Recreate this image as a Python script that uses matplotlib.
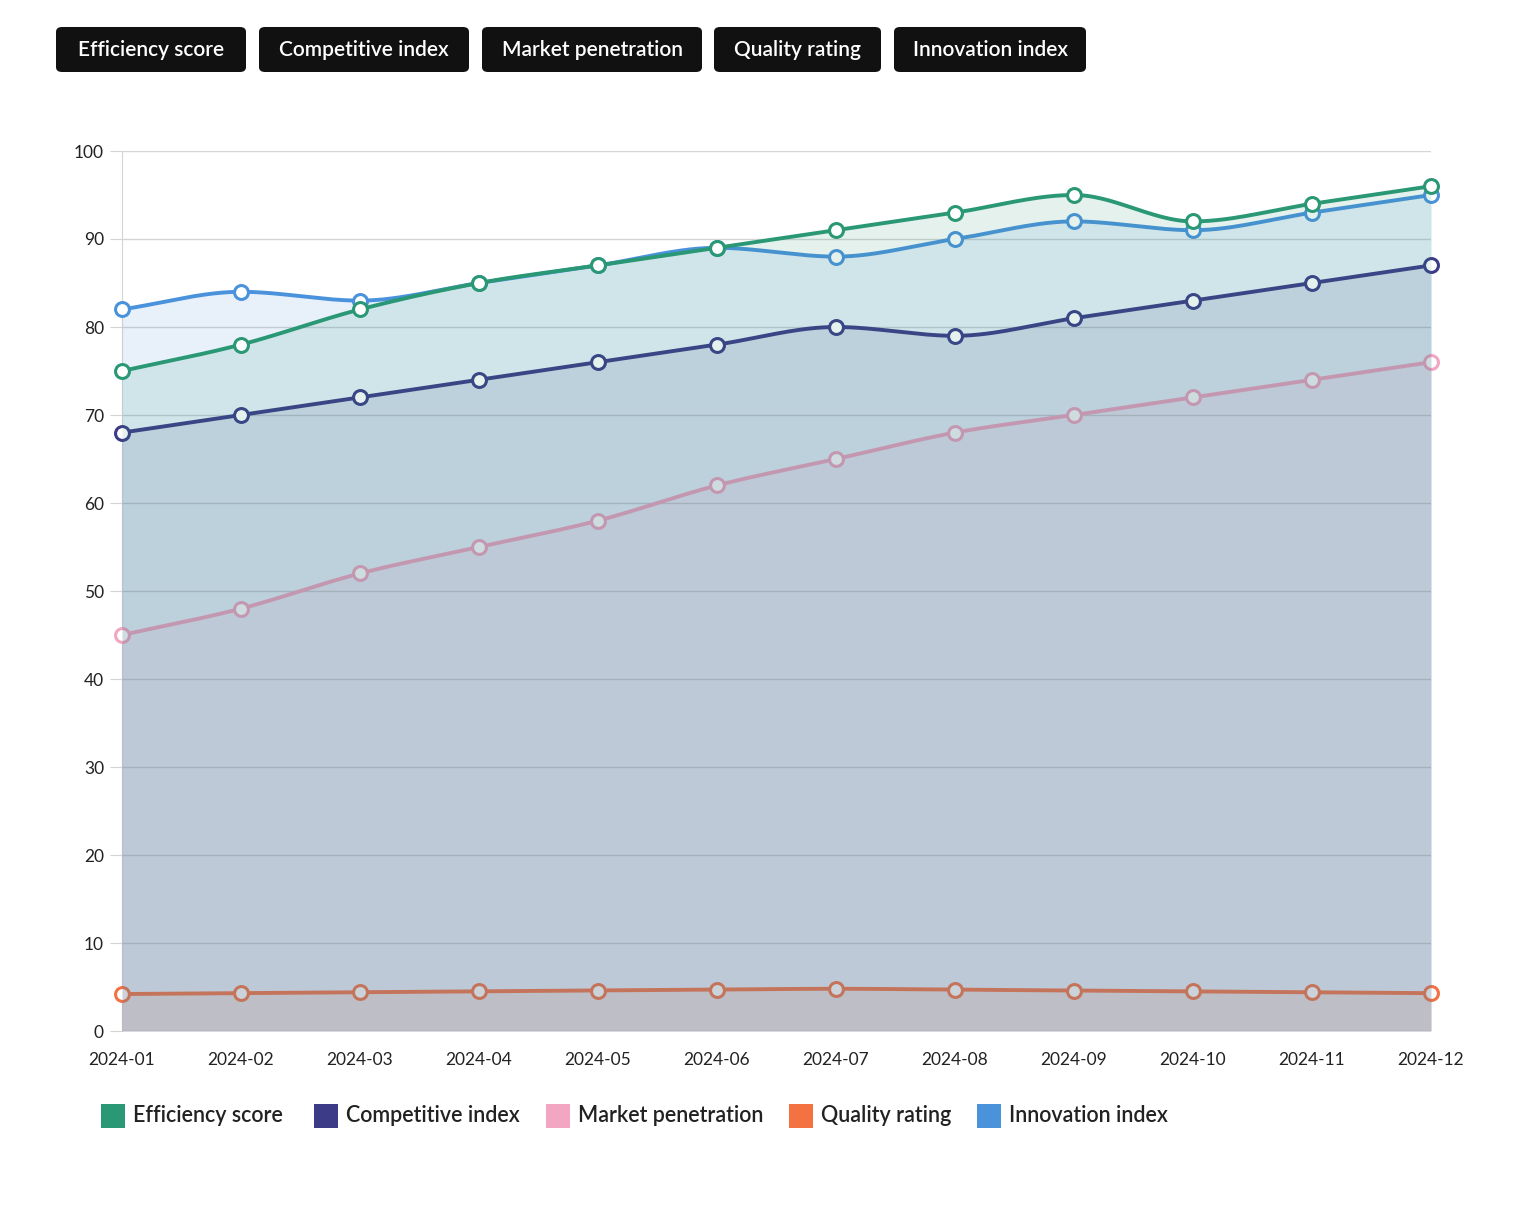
import numpy as np
import matplotlib
matplotlib.use("Agg")
import matplotlib.pyplot as plt
from matplotlib.patches import FancyBboxPatch, Rectangle

plt.rcParams["font.family"] = ["Lato", "DejaVu Sans"]

# ---- data ----
months = ["2024-01", "2024-02", "2024-03", "2024-04", "2024-05", "2024-06",
          "2024-07", "2024-08", "2024-09", "2024-10", "2024-11", "2024-12"]
series_names = ["Efficiency score", "Competitive index", "Market penetration",
                "Quality rating", "Innovation index"]
efficiency = [75, 78, 82, 85, 87, 89, 91, 93, 95, 92, 94, 96]
competitive = [68, 70, 72, 74, 76, 78, 80, 79, 81, 83, 85, 87]
market = [45, 48, 52, 55, 58, 62, 65, 68, 70, 72, 74, 76]
quality = [4.2, 4.3, 4.4, 4.5, 4.6, 4.7, 4.8, 4.7, 4.6, 4.5, 4.4, 4.3]
innovation = [82, 84, 83, 85, 87, 89, 88, 90, 92, 91, 93, 95]
colors = ["#2a9775", "#3b3b88", "#f2a6c2", "#f47142", "#4a92db"]

W, H = 1526, 1216


def fx(px):
    return px / W


def fy(py):
    return 1 - py / H


def monotone(x, y, n=30):
    # Fritsch-Carlson monotone cubic, for drawing the smooth line only
    x = np.asarray(x, float)
    y = np.asarray(y, float)
    h = np.diff(x)
    d = np.diff(y) / h
    m = np.zeros_like(y)
    m[0], m[-1] = d[0], d[-1]
    for i in range(1, len(y) - 1):
        if d[i - 1] * d[i] <= 0:
            m[i] = 0
        else:
            m[i] = (d[i - 1] + d[i]) / 2
    for i in range(len(d)):
        if d[i] == 0:
            m[i] = m[i + 1] = 0
            continue
        a, b = m[i] / d[i], m[i + 1] / d[i]
        s = a * a + b * b
        if s > 9:
            t = 3 / np.sqrt(s)
            m[i], m[i + 1] = t * a * d[i], t * b * d[i]
    xs, ys = [], []
    for i in range(len(d)):
        t = np.linspace(0, 1, n, endpoint=False)
        h00 = 2 * t**3 - 3 * t**2 + 1
        h10 = t**3 - 2 * t**2 + t
        h01 = -2 * t**3 + 3 * t**2
        h11 = t**3 - t**2
        xs.append(x[i] + t * h[i])
        ys.append(h00 * y[i] + h10 * h[i] * m[i] + h01 * y[i + 1] + h11 * h[i] * m[i + 1])
    xs.append([x[-1]])
    ys.append([y[-1]])
    return np.concatenate(xs), np.concatenate(ys)


fig = plt.figure(figsize=(W / 100, H / 100), dpi=100)
ax = fig.add_axes([fx(122), fy(1031), fx(1431) - fx(122), fy(151) - fy(1031)])

data = [efficiency, competitive, market, quality, innovation]
xi = np.arange(len(months))

# draw last dataset first so the first one ends up on top
for k in reversed(range(len(data))):
    sx, sy = monotone(xi, data[k])
    z = 10 + (len(data) - k) * 3
    ax.fill_between(sx, 0, sy, color=colors[k], alpha=0.125, linewidth=0, zorder=z)
    ax.plot(sx, sy, color=colors[k], lw=2.8, zorder=z + 1, solid_capstyle="round",
            clip_on=False)
    ax.plot(xi, data[k], "o", ms=10, mfc="white", mec=colors[k], mew=2.2,
            zorder=z + 2, linestyle="none", clip_on=False)

ax.set_xlim(0, len(months) - 1)
ax.set_ylim(0, 100)
ax.set_yticks(range(0, 101, 10))
ax.set_xticks(xi)
ax.set_xticklabels(months)
ax.grid(axis="y", color="#d4d4d4", lw=1, zorder=1)
for side in ["top", "right", "bottom"]:
    ax.spines[side].set_visible(False)
ax.spines["left"].set_color("#d4d4d4")
ax.tick_params(axis="y", length=9, color="#d4d4d4", labelsize=12.5, pad=4,
               labelcolor="#222222")
ax.tick_params(axis="x", length=0, labelsize=12.5, pad=15, labelcolor="#222222")
ax.set_axisbelow(True)

# top buttons
buttons = [(56, 246), (259, 469), (482, 702), (714, 881), (894, 1086)]
for (x0, x1), name in zip(buttons, series_names):
    box = FancyBboxPatch((fx(x0), fy(72)), fx(x1) - fx(x0), fy(27) - fy(72),
                         boxstyle="round,pad=0,rounding_size=0.004",
                         transform=fig.transFigure, facecolor="#111111",
                         edgecolor="none")
    fig.add_artist(box)
    fig.text(fx((x0 + x1) / 2), fy(50), name, color="white", fontsize=15,
             ha="center", va="center", fontweight="semibold")

# legend
legend_x = [101, 314, 546, 789, 977]
for lx, name, c in zip(legend_x, series_names, colors):
    fig.add_artist(Rectangle((fx(lx), fy(1128)), fx(24), fy(1104) - fy(1128),
                             transform=fig.transFigure, facecolor=c,
                             edgecolor="none"))
    fig.text(fx(lx + 32), fy(1116), name, fontsize=15.5, ha="left",
             va="center", color="#222222", fontweight="semibold")

fig.savefig("out.png", dpi=100, facecolor="white")
